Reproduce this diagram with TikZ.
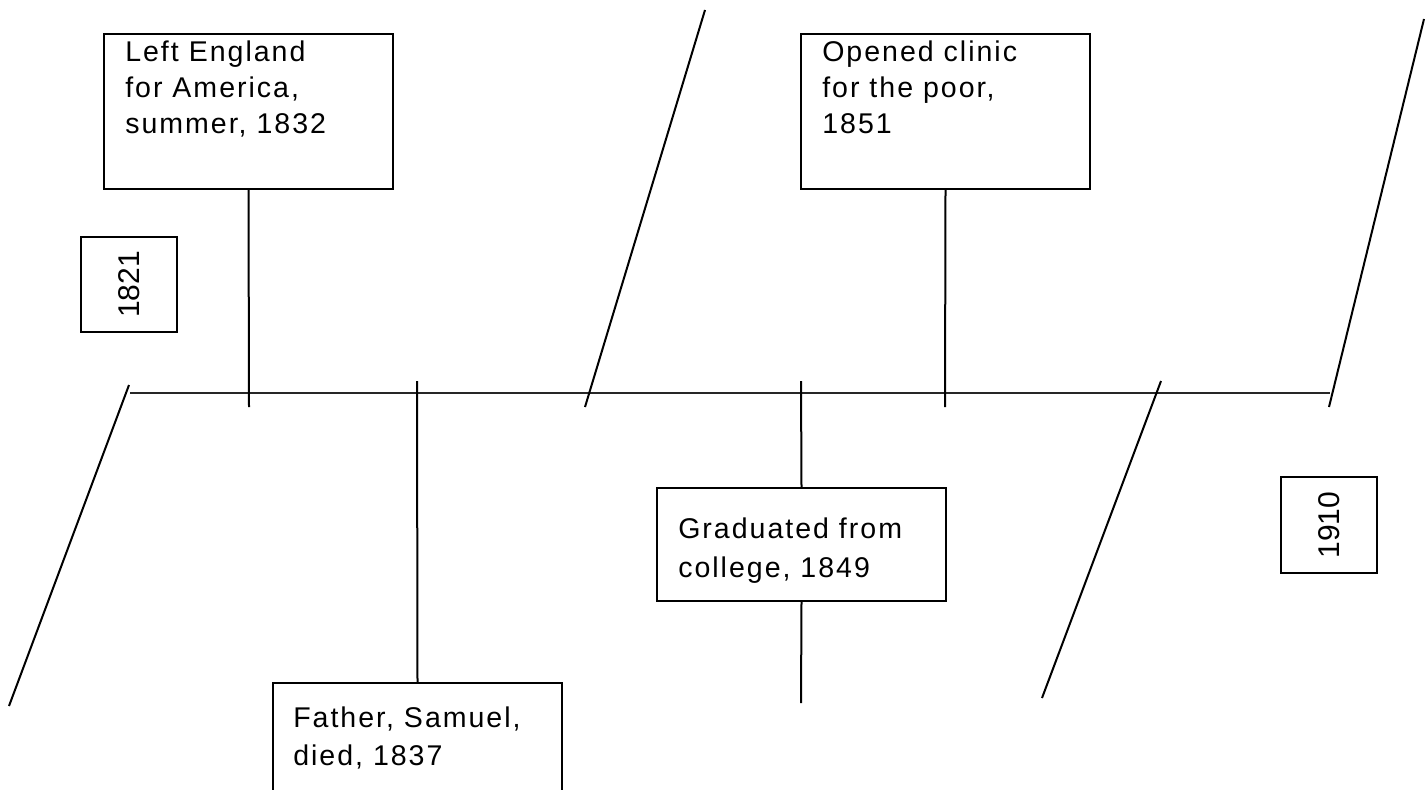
\documentclass[tikz,border=0pt]{standalone}
\usepackage{fontspec}
\setmainfont{Liberation Sans}[LetterSpace=7]
\newfontfamily\yrfont{Liberation Sans}
\begin{document}
\begin{tikzpicture}[x=0.75pt,y=-0.75pt,
  box/.style={draw,line width=1.5pt,inner sep=0pt},
  txt/.style={anchor=north west,inner sep=0pt,align=left,font=\fontsize{21.4pt}{27pt}\selectfont},
  yr/.style={rotate=90,inner sep=0pt,font=\yrfont\fontsize{22.5pt}{27pt}\selectfont},
  stem/.style={line width=1.5pt},
  slant/.style={line width=1.5pt},
  axis/.style={line width=0.9pt,black!85}]
\clip (0,0) rectangle (1427,789);
\fill[white] (0,0) rectangle (1427,789);

% main axis
\coordinate (axL) at (130,393);
\coordinate (axR) at (1330,393);
\draw[axis] (axL) -- (axR);

% slanted lines
\coordinate (s1a) at (129,385); \coordinate (s1b) at (9,706);
\coordinate (s2a) at (705,10);  \coordinate (s2b) at (585,407);
\coordinate (s3a) at (1161,381); \coordinate (s3b) at (1042,698);
\coordinate (s4a) at (1424,19); \coordinate (s4b) at (1329,407);
\draw[slant] (s1a) -- (s1b);
\draw[slant] (s2a) -- (s2b);
\draw[slant] (s3a) -- (s3b);
\draw[slant] (s4a) -- (s4b);

% boxes
\node[box,minimum width=216.75pt,minimum height=116.25pt] (bA) at (248.5,111.5) {};
\node[box,minimum width=216.75pt,minimum height=116.25pt] (bB) at (945.5,111.5) {};
\node[box,minimum width=216.75pt,minimum height=84.75pt] (bC) at (801.5,544.5) {};
\node[box,minimum width=216.75pt,minimum height=90pt] (bD) at (417.5,743) {};
\node[box,minimum width=72pt,minimum height=71.25pt] (y1) at (129,284.5) {};
\node[box,minimum width=72pt,minimum height=72pt] (y2) at (1329,525) {};

% texts
\node[txt] (tA) at (125,41) {Left England\\for America,\\summer, 1832};
\node[txt] (tB) at (822,41) {Opened clinic\\for the poor,\\1851};
\node[txt] (tC) at (678,518) {Graduated from\\[2.25pt]college, 1849};
\node[txt] (tD) at (293,707) {Father, Samuel,\\[1.5pt]died, 1837};
\node[yr] (ty1) at (y1) {1821};
\node[yr] (ty2) at (y2) {1910};

% stems
\coordinate (eA) at (249,407);
\coordinate (eB) at (945,407);
\coordinate (eD) at (417,381);
\coordinate (eC1) at (801,381);
\coordinate (eC2) at (801,703);
\draw[stem] (bA.south) -- (eA);
\draw[stem] (bB.south) -- (eB);
\draw[stem] (eD) -- (bD.north);
\draw[stem] (eC1) -- (bC.north);
\draw[stem] (bC.south) -- (eC2);
\end{tikzpicture}
\end{document}
